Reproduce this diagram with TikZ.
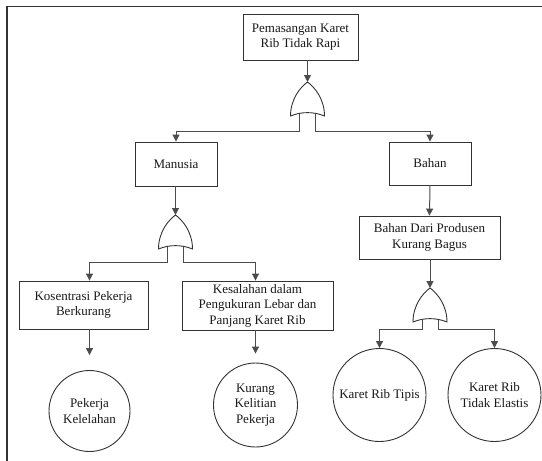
\documentclass[tikz,border=0pt]{standalone}
\usepackage{fontspec}
\setmainfont{Liberation Serif}
\usetikzlibrary{arrows.meta,calc}

\tikzset{
  txt/.style={text=black!90, font=\fontsize{13}{15.5}\selectfont},
  box/.style={txt, draw=black!80, line width=0.9pt, fill=white, align=center, inner sep=0pt},
  event/.style={txt, draw=black!80, line width=0.9pt, circle, fill=white, align=center, inner sep=0pt},
  link/.style={draw=black!70, line width=1pt},
  arr/.style={link, -{Triangle[width=7pt,length=7pt]}},
  frame/.style={draw=black!80, line width=1.5pt},
  % OR gate: origin at the apex, legs leave from the concave base
  orgate/.pic={
    \draw[black!80, line width=0.9pt, fill=white]
      (-17,34) .. controls (-17,17) and (-7,5) .. (0,0)
               .. controls (7,5) and (17,17) .. (17,34)
               .. controls (6,29.5) and (-6,29.5) .. cycle;
    \coordinate (-tip) at (0,0);
    \coordinate (-l) at (-8,31.8);
    \coordinate (-r) at (8,31.8);
  }
}

\begin{document}
\begin{tikzpicture}[x=1pt, y=-1pt]
\useasboundingbox (0,0) rectangle (542,461);

% page frame (top and left rules)
\draw[frame] (7,461) -- (7,6.5) -- (542,6.5);

% events
\node[box, minimum width=115, minimum height=46] (top) at (300.5,37) {Pemasangan Karet\\Rib Tidak Rapi};
\node[box, minimum width=82, minimum height=44] (manusia) at (176,164) {Manusia};
\node[box, minimum width=82, minimum height=43] (bahan) at (430,163.5) {Bahan};
\node[box, minimum width=129, minimum height=48] (kos) at (83.5,305) {Kosentrasi Pekerja\\Berkurang};
\node[box, minimum width=151, minimum height=49] (kes) at (257.5,305.5) {Kesalahan dalam\\Pengukuran Lebar dan\\Panjang Karet Rib};
\node[box, minimum width=141, minimum height=43] (dari) at (429.5,237.5) {Bahan Dari Produsen\\Kurang Bagus};

% basic events
\node[event, minimum size=81] (pek) at (89.5,411) {Pekerja\\Kelelahan};
\node[event, minimum size=84] (kur) at (255.5,405) {Kurang\\Kelitian\\Pekerja};
\node[event, minimum size=93] (tipis) at (379.5,395) {Karet Rib Tipis};
\node[event, minimum size=93] (elas) at (494.5,395) {Karet Rib\\Tidak Elastis};

% gates
\pic (g1) at (307.5,82) {orgate};
\pic (g2) at (175.5,215) {orgate};
\pic (g3) at (430,288) {orgate};

% connectors
\draw[arr] (top.south -| g1-tip) -- (g1-tip);
\draw[arr] (g1-l) -- ++(0,18) -| (manusia.north);
\draw[arr] (g1-r) -- ++(0,18) -| (bahan.north);

\draw[arr] (manusia.south -| g2-tip) -- (g2-tip);
\draw[arr] (g2-l) -- ++(0,16) -| (pek.north |- kos.north);
\draw[arr] (g2-r) -- ++(0,16) -| (kur.north |- kes.north);

\draw[arr] (bahan.south) -- (dari.north);
\draw[arr] (dari.south -| g3-tip) -- (g3-tip);
\draw[arr] (g3-l) -- ++(0,10) -| (tipis.north);
\draw[arr] (g3-r) -- ++(0,10) -| (elas.north);

\draw[arr, shorten >=15pt] (pek.north |- kos.south) -- (pek.north);
\draw[arr, shorten >=9pt] (kur.north |- kes.south) -- (kur.north);
\end{tikzpicture}
\end{document}
